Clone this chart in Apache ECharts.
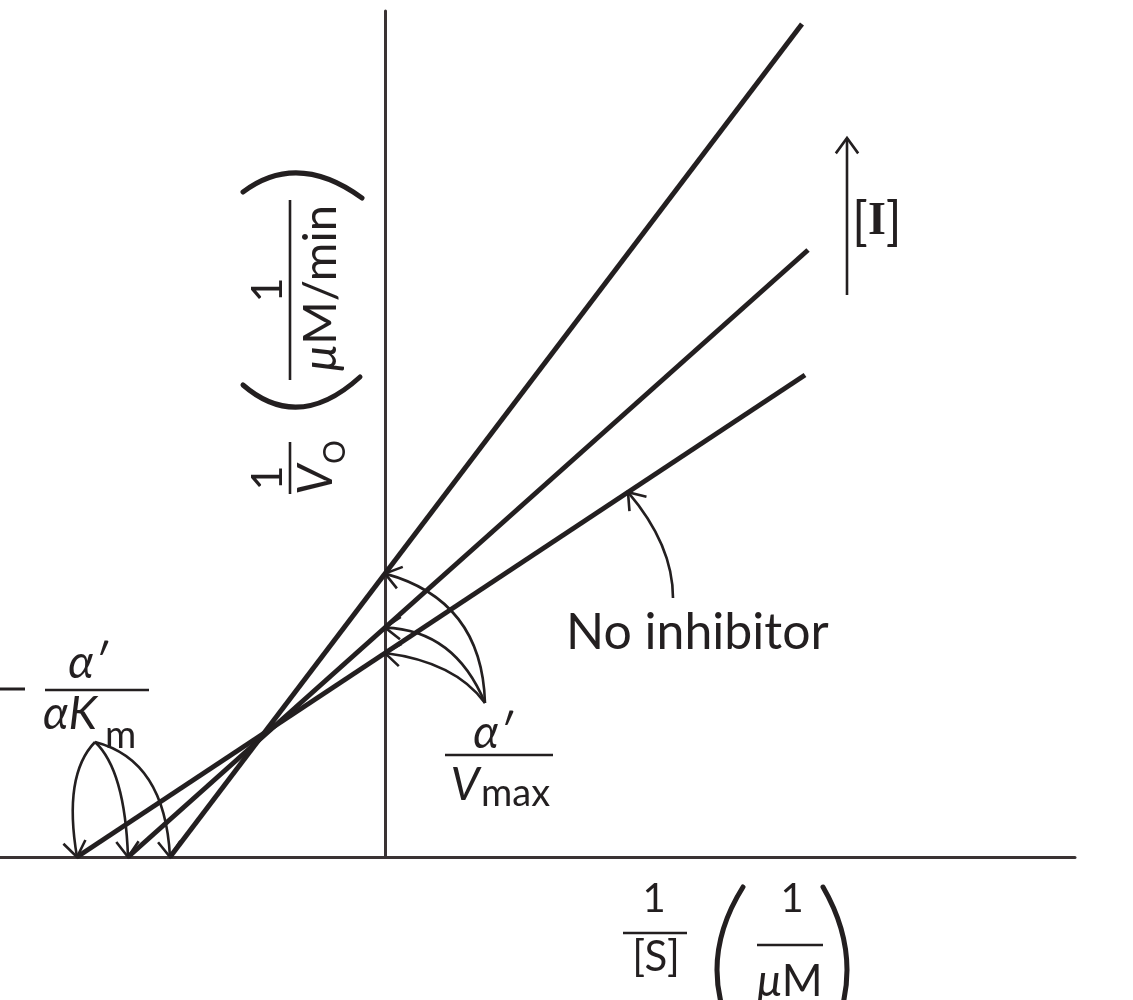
<!DOCTYPE html>
<html>
<head>
<meta charset="utf-8">
<script src="https://cdn.jsdelivr.net/npm/echarts@6/dist/echarts.min.js"></script>
<style>
html,body{margin:0;padding:0;background:#fff;}
#chart{width:1133px;height:1000px;}
</style>
</head>
<body>
<div id="chart"></div>
<script>
// ---- data: 1/[S] (x) and 1/V0 (y) end points of each Lineweaver–Burk line ----
const seriesNames = ['High [I]', 'Low [I]', 'No inhibitor'];
const invS_high = [-2.15, 4.17];
const invV_high = [0, 8.33];
const invS_low = [-2.57, 4.23];
const invV_low = [0, 6.07];
const invS_none = [-3.08, 4.20];
const invV_none = [0, 4.82];

// ---- axis extents ----
const xMin = -3.85, xMax = 6.9;
const yMin = 0, yMax = 8.46;

const INK = '#231f20';
const AXIS = '#3a3334';
const FONT = 'Lato';

function pts(xs, ys) { return xs.map((x, i) => [x, ys[i]]); }
function yAt(xs, ys, x) { return ys[0] + (x - xs[0]) * (ys[1] - ys[0]) / (xs[1] - xs[0]); }

const lines = [[invS_high, invV_high], [invS_low, invV_low], [invS_none, invV_none]];

// annotation arrows: tip (derived from data), start & control point (label anchors)
const arrows = [];
// -alpha'/(alpha Km) -> x intercepts
const kmFrom = [-2.90, 1.15];
const kmCtrl = [[-3.22, 0.82], [-2.60, 0.87], [-2.20, 0.97]];
[2, 1, 0].forEach((li, k) => {
  const [xs, ys] = lines[li];
  arrows.push([xs[0], ys[0], kmFrom[0], kmFrom[1], kmCtrl[k][0], kmCtrl[k][1]]);
});
// alpha'/Vmax -> y intercepts
const vmFrom = [1.00, 1.54];
const vmCtrl = [[0.97, 2.57], [0.70, 2.27], [0.70, 1.95]];
[0, 1, 2].forEach((li, k) => {
  const [xs, ys] = lines[li];
  arrows.push([0, yAt(xs, ys, 0), vmFrom[0], vmFrom[1], vmCtrl[k][0], vmCtrl[k][1]]);
});
// "No inhibitor" pointer
const niX = 2.43;
arrows.push([niX, yAt(invS_none, invV_none, niX), 2.88, 2.59, 2.88, 3.12]);
// [I] increasing arrow (straight)
arrows.push([4.62, 7.19, 4.62, 5.62, 4.62, 6.4]);

function renderArrow(params, api) {
  const tip = api.coord([api.value(0), api.value(1)]);
  const from = api.coord([api.value(2), api.value(3)]);
  const cp = api.coord([api.value(4), api.value(5)]);
  const dx = tip[0] - cp[0], dy = tip[1] - cp[1];
  const len = Math.hypot(dx, dy) || 1;
  const bx = -dx / len, by = -dy / len;
  const L = 19, a = Math.PI / 5, c = Math.cos(a), s = Math.sin(a);
  const p1 = [tip[0] + L * (bx * c - by * s), tip[1] + L * (bx * s + by * c)];
  const p2 = [tip[0] + L * (bx * c + by * s), tip[1] + L * (-bx * s + by * c)];
  return {
    type: 'group',
    children: [
      { type: 'bezierCurve', shape: { x1: from[0], y1: from[1], x2: tip[0], y2: tip[1], cpx1: cp[0], cpy1: cp[1] },
        style: { stroke: INK, lineWidth: 2.6, fill: 'none' } },
      { type: 'polyline', shape: { points: [p1, tip, p2] },
        style: { stroke: INK, lineWidth: 2.6, fill: 'none' } }
    ]
  };
}

// ---- text helpers (label layout) ----
function T(text, x, y, size, o) {
  o = o || {};
  return { type: 'text', x: x, y: y, silent: true, z: 10,
    style: { text: text, fontSize: size, fontFamily: o.family || FONT, fontStyle: o.italic ? 'italic' : 'normal',
      fontWeight: o.bold ? 'bold' : 'normal', fill: INK, align: o.align || 'center', verticalAlign: 'middle' } };
}
function HL(x1, x2, y, w) {
  return { type: 'line', silent: true, z: 10, shape: { x1: x1, y1: y, x2: x2, y2: y }, style: { stroke: INK, lineWidth: w || 2.6 } };
}
function PAREN(x1, y1, cx, cy, x2, y2) {
  return { type: 'bezierCurve', silent: true, z: 10, shape: { x1: x1, y1: y1, cpx1: cx, cpy1: cy, x2: x2, y2: y2 },
    style: { stroke: INK, lineWidth: 5, fill: 'none', lineCap: 'round' } };
}

const graphics = [
  // rotated y-axis title: 1/V0 (1/(µM/min))
  { type: 'group', x: 290, y: 468, rotation: Math.PI / 2, children: [
    T('1', -10, -22, 43),
    HL(-26, 26, 0),
    T('V', -12, 27, 48, { italic: true }),
    T('O', 16, 45, 30),
    PAREN(83, -47, 35, 8.5, 91, 70),
    T('1', 178, -22, 43),
    HL(88, 268, 0),
    { type: 'text', x: 180, y: 31, silent: true, style: { text: '{m|μ}M/min', fontSize: 47, fontFamily: FONT, fill: INK, align: 'center', verticalAlign: 'middle',
      rich: { m: { fontSize: 47, fontFamily: FONT, fontStyle: 'italic', fill: INK } } } },
    PAREN(276, -47, 317, 7.5, 270, 72)
  ] },
  // x-axis title: 1/[S] (1/µM)
  T('1', 654, 899, 40),
  HL(623, 687, 933),
  T('[S]', 656, 957, 42),
  PAREN(743, 887, 691, 970, 743, 1053),
  T('1', 792, 899, 40),
  HL(757, 823, 945),
  { type: 'text', x: 790, y: 982, silent: true, style: { text: '{m|μ}M', fontSize: 44, fontFamily: FONT, fill: INK, align: 'center', verticalAlign: 'middle',
    rich: { m: { fontSize: 44, fontFamily: FONT, fontStyle: 'italic', fill: INK } } } },
  PAREN(823, 887, 871, 970, 823, 1053),
  // -alpha'/(alpha Km)
  HL(0, 25, 689, 3),
  T('α′', 88, 663, 46, { italic: true }),
  HL(45, 149, 690),
  T('αK', 43, 714, 46, { italic: true, align: 'left' }),
  T('m', 105, 736, 38, { align: 'left' }),
  // alpha'/Vmax
  T('α′', 493, 733, 46, { italic: true }),
  HL(445, 553, 755),
  T('V', 465, 785, 46, { italic: true }),
  T('max', 481, 794, 38, { align: 'left' }),
  // No inhibitor
  T('No inhibitor', 566, 633, 50, { align: 'left' }),
  // [I]
  { type: 'text', x: 852, y: 222, silent: true, style: { text: '[{i|I}]', fontSize: 52, fontFamily: FONT, fill: INK, align: 'left', verticalAlign: 'middle',
    rich: { i: { fontSize: 46, fontFamily: 'Liberation Serif', fontWeight: 'bold', fill: INK } } } }
];

const chart = echarts.init(document.getElementById('chart'), null, { renderer: 'canvas' });
chart.setOption({
  animation: false,
  backgroundColor: '#ffffff',
  grid: { left: 0, right: 58, top: 11, bottom: 143, containLabel: false },
  xAxis: { type: 'value', min: xMin, max: xMax,
    axisLine: { show: true, onZero: true, lineStyle: { color: AXIS, width: 3 } },
    axisTick: { show: false }, axisLabel: { show: false }, splitLine: { show: false } },
  yAxis: { type: 'value', min: yMin, max: yMax,
    axisLine: { show: true, onZero: true, lineStyle: { color: AXIS, width: 3 } },
    axisTick: { show: false }, axisLabel: { show: false }, splitLine: { show: false } },
  series: lines.map((l, i) => ({
    name: seriesNames[i], type: 'line', data: pts(l[0], l[1]), showSymbol: false, silent: true, z: 3,
    lineStyle: { color: INK, width: 5, cap: 'butt' }
  })).concat([{
    type: 'custom', name: 'annotations', coordinateSystem: 'cartesian2d', renderItem: renderArrow,
    data: arrows, encode: { x: 0, y: 1 }, clip: false, silent: true, z: 4
  }]),
  graphic: graphics
});
</script>
</body>
</html>
